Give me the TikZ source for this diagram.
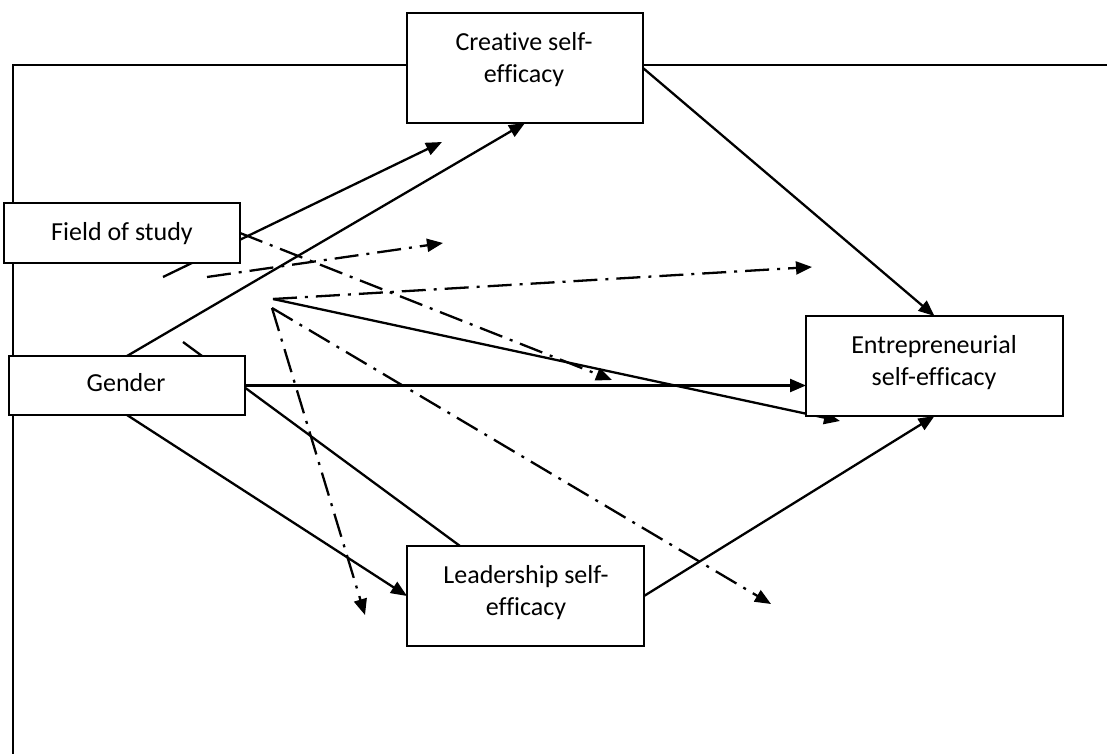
\documentclass[tikz,border=0pt]{standalone}
\usepackage{fontspec}
\setmainfont{Carlito}[Ligatures={NoCommon}]
\usetikzlibrary{arrows.meta,backgrounds}
\begin{document}
\begin{tikzpicture}[x=1pt,y=-1pt,
  box/.style={draw,line width=2.2pt,fill=white,inner sep=0pt,outer sep=0pt},
  txt/.style={anchor=base,inner sep=0pt,font=\fontsize{26}{32}\selectfont},
  ln/.style={line width=2.3pt},
  arr/.style={line width=2.3pt,-{Triangle[length=16pt,width=13pt]}},
  dd/.style={dash pattern=on 24pt off 8pt on 3pt off 8pt},
  frame/.style={line width=2.6pt}]
\useasboundingbox (0,0) rectangle (1107,754);
% boxes
\node[box,minimum width=236pt,minimum height=110pt] (cse) at (525,68) {};
\node[box,minimum width=236pt,minimum height=60pt] (fos) at (122,233) {};
\node[box,minimum width=236pt,minimum height=59pt] (gen) at (127,385.5) {};
\node[box,minimum width=257pt,minimum height=100pt] (ent) at (934.5,366) {};
\node[box,minimum width=237pt,minimum height=100pt] (lse) at (525.5,596) {};
% texts
\node[txt] (cset1) at (524,51) {Creative self-};
\node[txt] (cset2) at (524,83) {efficacy};
\node[txt] (fost) at (122,240) {Field of study};
\node[txt] (gent) at (126,391) {Gender};
\node[txt] (entt1) at (934,353) {Entrepreneurial};
\node[txt] (entt2) at (934,385) {self-efficacy};
\node[txt] (lset1) at (526,583) {Leadership self-};
\node[txt] (lset2) at (526,615) {efficacy};
% free ends
\coordinate (frTL) at (13,65);
\coordinate (frTR) at (1107,65);
\coordinate (frBL) at (13,754);
\coordinate (fA) at (163,277);
\coordinate (fAe) at (442,142);
\coordinate (fB) at (207,277);
\coordinate (fBe) at (443,243);
\coordinate (fC) at (240,233);
\coordinate (fCe) at (612,380);
\coordinate (hA) at (273,299);
\coordinate (hAe) at (840,421);
\coordinate (hBe) at (812,267);
\coordinate (hC) at (272,308);
\coordinate (hCe) at (365,615);
\coordinate (hDe) at (771,604);
\coordinate (gA) at (183,342);
\coordinate (gAe) at (460,546);
\begin{pgfonlayer}{background}
\draw[frame] (frTR) -- (frTL) -- (frBL);
\draw[arr] (cse.east) -- (ent.north);
\draw[arr] (lse.east) -- (ent.south);
\draw[arr] (gen.north) -- (cse.south);
\draw[arr] (gen.south) -- (lse.west);
\draw[arr] (gen.east) -- (gen.east -| ent.west);
\draw[ln] (gA) -- (gAe);
\draw[arr] (fA) -- (fAe);
\draw[arr,dd] (fB) -- (fBe);
\draw[arr,dd] (fC) -- (fCe);
\draw[arr] (hA) -- (hAe);
\draw[arr,dd] (hA) -- (hBe);
\draw[arr,dd] (hC) -- (hCe);
\draw[arr,dd] (hC) -- (hDe);
\end{pgfonlayer}
\end{tikzpicture}
\end{document}
